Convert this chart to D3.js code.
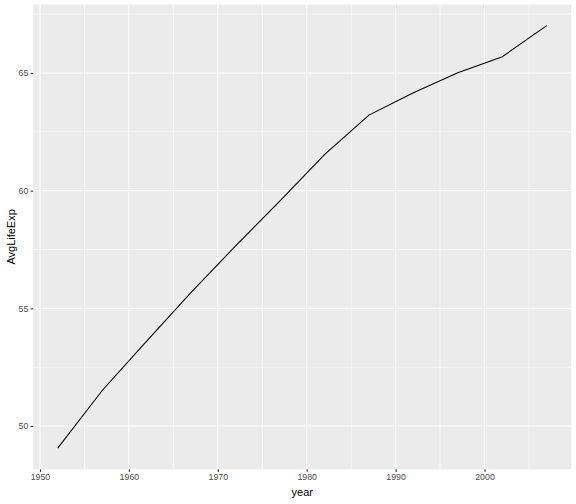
<!DOCTYPE html>
<html><head><meta charset="utf-8">
<script src="https://cdn.jsdelivr.net/npm/d3@7"></script>
<style>body{margin:0;background:#fff}</style>
</head><body>
<svg id="c" width="576" height="504"></svg>
<script>
const years = [1952,1957,1962,1967,1972,1977,1982,1987,1992,1997,2002,2007];
const avgLifeExp = [49.06,51.51,53.61,55.68,57.65,59.57,61.53,63.21,64.16,65.01,65.69,67.01];
const xTicks = [1950,1960,1970,1980,1990,2000];
const xMinor = [1955,1965,1975,1985,1995,2005];
const yTicks = [50,55,60,65];
const yMinor = [47.5,52.5,57.5,62.5,67.5];

const svg = d3.select("#c");
const L=33.3, R=571.2, T=4.5, B=469.3;
const xr=[1952,2007], yr=[49.06,67.01];
const xe=(xr[1]-xr[0])*0.05, ye=(yr[1]-yr[0])*0.05;
const x=d3.scaleLinear().domain([xr[0]-xe,xr[1]+xe]).range([L,R]);
const y=d3.scaleLinear().domain([yr[0]-ye,yr[1]+ye]).range([B,T]);

svg.append("rect").attr("x",L).attr("y",T).attr("width",R-L).attr("height",B-T).attr("fill","#EBEBEB");
const g=svg.append("g");
xMinor.forEach(v=>g.append("line").attr("x1",x(v)).attr("x2",x(v)).attr("y1",T).attr("y2",B).attr("stroke","#fff").attr("stroke-width",0.53));
yMinor.filter(v=>y(v)>T&&y(v)<B).forEach(v=>g.append("line").attr("y1",y(v)).attr("y2",y(v)).attr("x1",L).attr("x2",R).attr("stroke","#fff").attr("stroke-width",0.53));
xTicks.forEach(v=>g.append("line").attr("x1",x(v)).attr("x2",x(v)).attr("y1",T).attr("y2",B).attr("stroke","#fff").attr("stroke-width",1.07));
yTicks.forEach(v=>g.append("line").attr("y1",y(v)).attr("y2",y(v)).attr("x1",L).attr("x2",R).attr("stroke","#fff").attr("stroke-width",1.07));

const line=d3.line().x((d,i)=>x(years[i])).y(d=>y(d));
svg.append("path").attr("d",line(avgLifeExp)).attr("fill","none").attr("stroke","#000").attr("stroke-width",1.07);

const xa=svg.append("g").attr("transform",`translate(0,${B})`).call(d3.axisBottom(x).tickValues(xTicks).tickFormat(d3.format("d")).tickSize(2.74).tickPadding(2.2));
const ya=svg.append("g").attr("transform",`translate(${L},0)`).call(d3.axisLeft(y).tickValues(yTicks).tickSize(2.74).tickPadding(2.2));
[xa,ya].forEach(a=>{a.select(".domain").remove();a.selectAll(".tick line").attr("stroke","#333").attr("stroke-width",1.07);
 a.selectAll("text").attr("fill","#4D4D4D").style("font-family","Liberation Sans, Arial, sans-serif").style("font-size","8.8px");});

svg.append("text").attr("x",(L+R)/2).attr("y",496).attr("text-anchor","middle").style("font-family","Liberation Sans, Arial, sans-serif").style("font-size","11px").text("year");
svg.append("text").attr("transform",`translate(15,${(T+B)/2}) rotate(-90)`).attr("text-anchor","middle").style("font-family","Liberation Sans, Arial, sans-serif").style("font-size","11px").text("AvgLifeExp");
</script>
</body></html>
